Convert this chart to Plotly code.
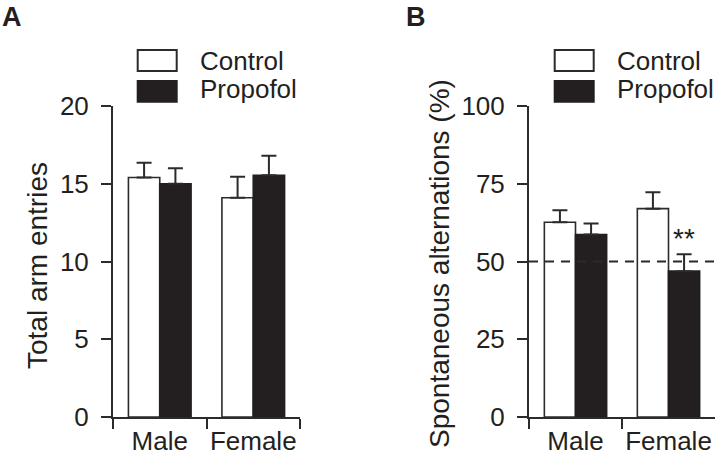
import plotly.graph_objects as go

# ---- data ----
groups = ["Male", "Female"]
arm_control = [15.4, 14.1]
arm_control_err = [0.95, 1.35]
arm_propofol = [15.0, 15.55]
arm_propofol_err = [1.0, 1.25]

alt_control = [62.6, 67.0]
alt_control_err = [3.9, 5.3]
alt_propofol = [58.7, 46.9]
alt_propofol_err = [3.5, 5.4]

yticks_a = [0, 5, 10, 15, 20]
yticks_b = [0, 25, 50, 75, 100]
chance_level = 50
sig_label = "**"

W, H = 718, 456
def px(x):
    return x / W
def py(y):
    return 1 - y / H

INK = "#231f20"
LINE = "#2b2b2b"
FONT = "Liberation Sans, Arial, Helvetica, sans-serif"
FS = 26
FS_TITLE = 28

fig = go.Figure()

def add_bars(xa, ya, ctrl, ctrl_e, prop, prop_e):
    fig.add_trace(go.Bar(
        x=groups, y=ctrl, name="Control", xaxis=xa, yaxis=ya,
        marker=dict(color="white", line=dict(color=LINE, width=1.6)),
        error_y=dict(type="data", array=ctrl_e, arrayminus=[0] * len(ctrl_e),
                     symmetric=False, color=LINE, thickness=2, width=7.5),
        showlegend=False))
    fig.add_trace(go.Bar(
        x=groups, y=prop, name="Propofol", xaxis=xa, yaxis=ya,
        marker=dict(color=INK, line=dict(color=INK, width=1.6)),
        error_y=dict(type="data", array=prop_e, arrayminus=[0] * len(prop_e),
                     symmetric=False, color=LINE, thickness=2, width=7.5),
        showlegend=False))

add_bars("x", "y", arm_control, arm_control_err, arm_propofol, arm_propofol_err)
add_bars("x2", "y2", alt_control, alt_control_err, alt_propofol, alt_propofol_err)

ydom = [py(417), py(106)]
axis_common = dict(showline=True, linecolor=LINE, linewidth=2, ticks="outside",
                   ticklen=10, tickwidth=2, tickcolor=LINE, showgrid=False,
                   zeroline=False, automargin=False, fixedrange=True,
                   tickfont=dict(family=FONT, size=FS, color=INK))

xcommon = dict(axis_common, type="category", range=[-0.5, 1.5], tickson="boundaries",
               tickangle=0, ticklabelstandoff=0)

fig.update_layout(
    template="none",
    width=W, height=H,
    margin=dict(l=0, r=0, t=0, b=0, pad=0, autoexpand=False),
    paper_bgcolor="white", plot_bgcolor="white",
    barmode="group", bargap=0.33, bargroupgap=0,
    font=dict(family=FONT, color=INK),
    xaxis=dict(xcommon, domain=[px(113), px(300)], anchor="y"),
    yaxis=dict(axis_common, domain=ydom, range=[0, 20], tickvals=yticks_a,
               anchor="x", ticklabelstandoff=7),
    xaxis2=dict(xcommon, domain=[px(529), px(715)], anchor="y2"),
    yaxis2=dict(axis_common, domain=ydom, range=[0, 100], tickvals=yticks_b,
                anchor="x2", ticklabelstandoff=7),
)

# chance level dashed line
fig.add_shape(type="line", xref="x2 domain", yref="y2", x0=0, x1=1.02,
              y0=chance_level, y1=chance_level, layer="above",
              line=dict(color=LINE, width=2, dash="9px,7px"))

# significance marker above female propofol
fig.add_annotation(x="Female", y=alt_propofol[1] + alt_propofol_err[1],
                   xref="x2", yref="y2", text=sig_label, showarrow=False,
                   xshift=15.5, yanchor="bottom", yshift=-2,
                   font=dict(family=FONT, size=28, color=INK))

# axis titles
fig.add_annotation(x=px(37), y=py(266), xref="paper", yref="paper",
                   text="Total arm entries", textangle=-90, showarrow=False,
                   xanchor="center", yanchor="middle",
                   font=dict(family=FONT, size=FS_TITLE, color=INK))
fig.add_annotation(x=px(439), y=py(264), xref="paper", yref="paper",
                   text="Spontaneous alternations (%)", textangle=-90, showarrow=False,
                   xanchor="center", yanchor="middle",
                   font=dict(family=FONT, size=FS_TITLE, color=INK))

# panel letters
for lx, letter in [(0, "A"), (404, "B")]:
    fig.add_annotation(x=px(lx), y=py(16.5), xref="paper", yref="paper",
                       text="<b>%s</b>" % letter, showarrow=False,
                       xanchor="left", yanchor="middle",
                       font=dict(family=FONT, size=27, color=INK))

# legends
for bx, tx in [(137.7, 198), (554.7, 615)]:
    fig.add_shape(type="rect", xref="paper", yref="paper",
                  x0=px(bx), x1=px(bx + 39), y0=py(71), y1=py(50),
                  fillcolor="white", line=dict(color=LINE, width=2))
    fig.add_shape(type="rect", xref="paper", yref="paper",
                  x0=px(bx), x1=px(bx + 39), y0=py(101.7), y1=py(81),
                  fillcolor=INK, line=dict(color=INK, width=2))
    fig.add_annotation(x=px(tx), y=py(61), xref="paper", yref="paper",
                       text="Control", showarrow=False, xanchor="left",
                       yanchor="middle", font=dict(family=FONT, size=FS, color=INK))
    fig.add_annotation(x=px(tx), y=py(89), xref="paper", yref="paper",
                       text="Propofol", showarrow=False, xanchor="left",
                       yanchor="middle", font=dict(family=FONT, size=FS, color=INK))

fig.write_html("out.html", config={"displayModeBar": False},
               post_script="document.body.style.margin='0';document.body.style.overflow='hidden';")
